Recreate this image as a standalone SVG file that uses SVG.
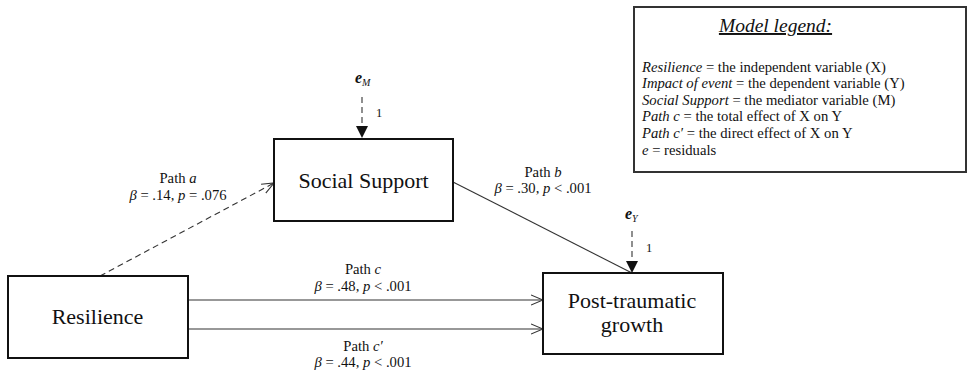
<svg xmlns="http://www.w3.org/2000/svg" width="968" height="373" viewBox="0 0 968 373">
<style>
text{font-family:"Liberation Serif","Times New Roman",serif;fill:#111}
.box{fill:#fff;stroke:#111;stroke-width:2}
.node{font-family:"Liberation Serif","Times New Roman",serif;font-size:22px;text-anchor:middle}
.lbl{font-size:14.67px;text-anchor:middle}
.leg{font-size:14.67px}
.i{font-style:italic}
.conn{stroke:#333;stroke-width:1.1;fill:none}
.dash{stroke-dasharray:6 4}
</style>
<defs>
<marker id="open" viewBox="0 0 12 12" refX="12" refY="6" markerWidth="12" markerHeight="12" markerUnits="userSpaceOnUse" orient="auto">
<path d="M0,1 L12,6 L0,11" fill="none" stroke="#333" stroke-width="1.1"/>
</marker>
</defs>
<g id="legend">
<rect x="634" y="7" width="332" height="165" fill="#fff" stroke="#333" stroke-width="2"/>
<text x="775.5" y="32" font-family="Liberation Serif, serif" font-size="19.5" font-style="italic" text-anchor="middle" text-decoration="underline">Model legend:</text>
<text class="leg" x="642" y="71.5"><tspan class="i">Resilience</tspan> = the independent variable (X)</text>
<text class="leg" x="642" y="88"><tspan class="i">Impact of event</tspan> = the dependent variable (Y)</text>
<text class="leg" x="642" y="104.5"><tspan class="i">Social Support</tspan> = the mediator variable (M)</text>
<text class="leg" x="642" y="121"><tspan class="i">Path c</tspan> = the total effect of X on Y</text>
<text class="leg" x="642" y="138"><tspan class="i">Path c′</tspan> = the direct effect of X on Y</text>
<text class="leg" x="642" y="155"><tspan class="i">e</tspan> = residuals</text>
</g>
<g id="connectors">
<line class="conn dash" x1="100" y1="276" x2="274" y2="183" marker-end="url(#open)"/>
<line class="conn" x1="453" y1="182" x2="632" y2="273"/>
<line class="conn" x1="188" y1="300" x2="543" y2="300" marker-end="url(#open)"/>
<line class="conn" x1="188" y1="329" x2="543" y2="329" marker-end="url(#open)"/>
<line class="conn dash" x1="362" y1="97" x2="362" y2="127"/>
<path d="M356,126 L368,126 L362,138 Z" fill="#111"/>
<line class="conn dash" x1="632" y1="231" x2="632" y2="262"/>
<path d="M626,261 L638,261 L632,273 Z" fill="#111"/>
<text class="lbl" x="178" y="183">Path <tspan class="i">a</tspan></text>
<text class="lbl" x="178" y="199.5"><tspan class="i">β</tspan> = .14, <tspan class="i">p</tspan> = .076</text>
<text class="lbl" x="543" y="176.5">Path <tspan class="i">b</tspan></text>
<text class="lbl" x="543" y="193"><tspan class="i">β</tspan> = .30, <tspan class="i">p</tspan> &lt; .001</text>
<text class="lbl" x="363" y="274">Path <tspan class="i">c</tspan></text>
<text class="lbl" x="363" y="290.5"><tspan class="i">β</tspan> = .48, <tspan class="i">p</tspan> &lt; .001</text>
<text class="lbl" x="363" y="351">Path <tspan class="i">c′</tspan></text>
<text class="lbl" x="363" y="367"><tspan class="i">β</tspan> = .44, <tspan class="i">p</tspan> &lt; .001</text>
<text x="376" y="117" font-size="12.5">1</text>
<text x="646" y="252" font-size="12.5">1</text>
</g>
<g id="eM">
<text x="355" y="83" font-size="16" font-style="italic" font-weight="bold">e<tspan font-size="10" font-weight="normal" dy="3">M</tspan></text>
</g>
<g id="eY">
<text x="625" y="219" font-size="16" font-style="italic" font-weight="bold">e<tspan font-size="10" font-weight="normal" dy="3">Y</tspan></text>
</g>
<g id="social-support">
<rect class="box" x="274" y="139" width="179" height="82"/>
<text class="node" x="363.5" y="188" font-family="Liberation Serif, serif">Social Support</text>
</g>
<g id="resilience">
<rect class="box" x="8" y="276" width="180" height="82"/>
<text class="node" x="97.5" y="324" font-family="Liberation Serif, serif">Resilience</text>
</g>
<g id="ptg">
<rect class="box" x="543" y="273" width="180" height="81"/>
<text class="node" x="632" y="308" font-family="Liberation Serif, serif">Post-traumatic</text>
<text class="node" x="632" y="332" font-family="Liberation Serif, serif">growth</text>
</g>
</svg>
